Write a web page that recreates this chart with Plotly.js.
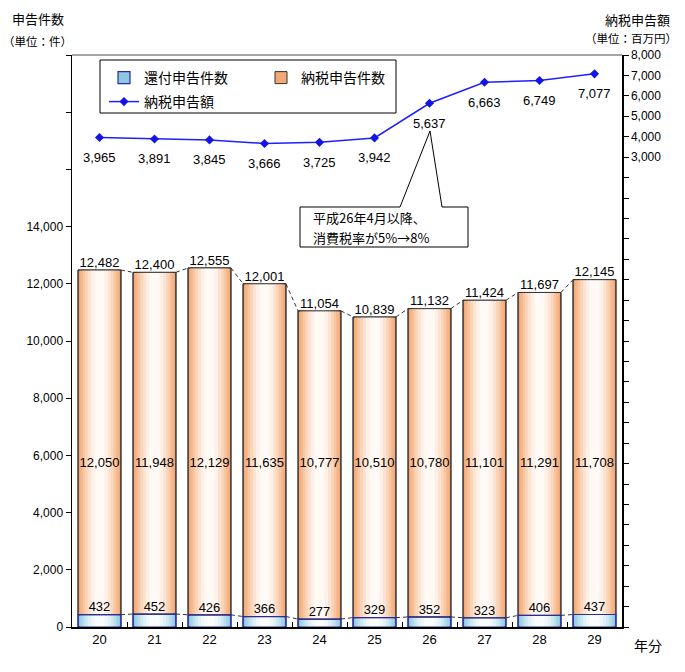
<!DOCTYPE html>
<html>
<head>
<meta charset="utf-8">
<script src="https://cdn.plot.ly/plotly-3.0.1.min.js"></script>
<style>html,body{margin:0;padding:0;background:#fff;}#chart{width:685px;height:672px;}</style>
</head>
<body>
<div id="chart"></div>
<script>
// ---- data ----
const years = ['20','21','22','23','24','25','26','27','28','29'];
const refundCount = [432, 452, 426, 366, 277, 329, 352, 323, 406, 437];
const taxCount = [12050, 11948, 12129, 11635, 10777, 10510, 10780, 11101, 11291, 11708];
const totalCount = [12482, 12400, 12555, 12001, 11054, 10839, 11132, 11424, 11697, 12145];
const taxAmount = [3965, 3891, 3845, 3666, 3725, 3942, 5637, 6663, 6749, 7077];
const leftTicks = [0, 2000, 4000, 6000, 8000, 10000, 12000, 14000, 16000, 18000, 20000];
const rightTicks = [];
for (let v = -20000; v <= 8000; v += 1000) rightTicks.push(v);

// ---- styles ----
const FONT = 'Liberation Sans, Arial, Noto Sans CJK JP, sans-serif';
const JFONT = 'Noto Sans CJK JP, Liberation Sans, sans-serif';
const BARW = 0.78;
const idx = years.map((_, i) => i);
const fmt = v => v.toLocaleString('en-US');

const orangeStrips = [
  [0.78, '#F4A875'], [0.70, '#F6B68A'], [0.61, '#F9C6A2'], [0.52, '#FBD5BA'],
  [0.42, '#FCE3D1'], [0.31, '#FEF0E6'], [0.18, '#FFFAF6']
];
const blueStrips = [
  [0.78, '#8CC9DF'], [0.70, '#A2D4E6'], [0.61, '#B9DFEC'], [0.52, '#CEE8F2'],
  [0.42, '#E0F0F7'], [0.31, '#EEF7FB'], [0.18, '#FAFDFE']
];

const traces = [];
blueStrips.forEach(([w, c], k) => {
  traces.push({
    type: 'bar', x: idx, y: refundCount, base: 0, width: w,
    name: '還付申告件数', showlegend: k === 0, legend: 'legend',
    marker: {color: c, line: {width: k === 0 ? 1.2 : 0, color: '#2B2BA0'}},
    hoverinfo: 'skip'
  });
});
orangeStrips.forEach(([w, c], k) => {
  traces.push({
    type: 'bar', x: idx, y: taxCount, base: refundCount, width: w,
    name: '納税申告件数', showlegend: k === 0, legend: 'legend',
    marker: {color: c, line: {width: k === 0 ? 1 : 0, color: '#333333'}},
    hoverinfo: 'skip'
  });
});
// outlines on top
traces.push({
  type: 'bar', x: idx, y: taxCount, base: refundCount, width: BARW,
  showlegend: false, marker: {color: 'rgba(0,0,0,0)', line: {width: 1, color: '#333333'}},
  hoverinfo: 'skip'
});
traces.push({
  type: 'bar', x: idx, y: refundCount, base: 0, width: BARW,
  showlegend: false, marker: {color: 'rgba(0,0,0,0)', line: {width: 1.2, color: '#2B2BA0'}},
  hoverinfo: 'skip'
});

// series lines (dashed) between bar tops
function seriesLine(vals) {
  const xs = [], ys = [];
  for (let i = 0; i < vals.length - 1; i++) {
    xs.push(i + BARW / 2, i + 1 - BARW / 2, null);
    ys.push(vals[i], vals[i + 1], null);
  }
  return {type: 'scatter', mode: 'lines', x: xs, y: ys, showlegend: false,
    line: {color: '#333333', width: 1, dash: '4px,3px'}, hoverinfo: 'skip', connectgaps: false};
}
traces.push(seriesLine(totalCount));
traces.push(seriesLine(refundCount));

// labels
traces.push({type: 'scatter', mode: 'text', x: idx, y: totalCount, text: totalCount.map(fmt),
  textposition: 'top center', textfont: {family: FONT, size: 13, color: '#000'}, showlegend: false, hoverinfo: 'skip'});
traces.push({type: 'scatter', mode: 'text', x: idx, y: idx.map(() => 5700), text: taxCount.map(fmt),
  textposition: 'middle center', textfont: {family: FONT, size: 13, color: '#000'}, showlegend: false, hoverinfo: 'skip'});
traces.push({type: 'scatter', mode: 'text', x: idx, y: refundCount, text: refundCount.map(fmt),
  textposition: 'top center', textfont: {family: FONT, size: 13, color: '#000'}, showlegend: false, hoverinfo: 'skip'});

// line on right axis
traces.push({
  type: 'scatter', mode: 'lines+markers', x: idx, y: taxAmount, yaxis: 'y2',
  name: '納税申告額', legend: 'legend2',
  line: {color: '#1F1FFF', width: 1.5}, marker: {symbol: 'diamond', size: 7, color: '#1414E6'},
  hoverinfo: 'skip'
});

const px = v => (v - 72) / 550;
const py = v => (627 - v) / 572;

const amountLabels = idx.map(i => ({
  xref: 'x', yref: 'y2', x: i, y: taxAmount[i], yshift: -20, showarrow: false,
  text: fmt(taxAmount[i]), font: {family: FONT, size: 13, color: '#000'}
}));

const layout = {
  width: 685, height: 672,
  margin: {l: 72, r: 63, t: 55, b: 45},
  paper_bgcolor: '#fff', plot_bgcolor: '#fff',
  font: {family: FONT, size: 12, color: '#000'},
  barmode: 'overlay',
  showlegend: true,
  hovermode: false,
  xaxis: {
    range: [-0.5, 9.5], tickmode: 'array', tickvals: idx, ticktext: years,
    ticks: '', showgrid: false, zeroline: false, showline: true, linecolor: '#000', linewidth: 1.5,
    tickfont: {family: FONT, size: 13, color: '#000'},
    minor: {tickmode: 'array', tickvals: idx.slice(0, -1).map(i => i + 0.5), ticks: 'inside', ticklen: 5, tickcolor: '#000', showgrid: false}
  },
  yaxis: {
    range: [0, 20000], tickmode: 'array', tickvals: leftTicks,
    ticktext: leftTicks.map(v => v <= 14000 ? fmt(v) : ''),
    ticks: 'outside', ticklen: 5, tickcolor: '#000', showgrid: false, zeroline: false,
    showline: true, linecolor: '#000', linewidth: 1.5,
    tickfont: {family: FONT, size: 12, color: '#000'}
  },
  yaxis2: {
    overlaying: 'y', side: 'right', range: [-20000, 8000], tickmode: 'array', tickvals: rightTicks,
    ticktext: rightTicks.map(v => v >= 3000 ? fmt(v) : ''),
    ticks: 'outside', ticklen: 5, tickcolor: '#000', showgrid: false, zeroline: false,
    showline: true, linecolor: '#000', linewidth: 1.5,
    tickfont: {family: FONT, size: 12, color: '#000'}
  },
  legend: {
    orientation: 'h', x: px(104), y: py(62), xanchor: 'left', yanchor: 'top',
    entrywidth: 112, entrywidthmode: 'pixels', bgcolor: 'rgba(0,0,0,0)', borderwidth: 0,
    font: {family: JFONT, size: 14, color: '#000'}
  },
  legend2: {
    orientation: 'h', x: px(104), y: py(86), xanchor: 'left', yanchor: 'top',
    bgcolor: 'rgba(0,0,0,0)', borderwidth: 0,
    font: {family: JFONT, size: 14, color: '#000'}
  },
  shapes: [
    {type: 'line', xref: 'paper', yref: 'paper', x0: 0, x1: 1, y0: 1, y1: 1, line: {color: '#A6A6A6', width: 2}},
    {type: 'rect', xref: 'paper', yref: 'paper', x0: px(100), x1: px(396), y0: py(113), y1: py(60),
      line: {color: '#000', width: 1}, fillcolor: 'rgba(0,0,0,0)'},
    {type: 'path', xref: 'paper', yref: 'paper',
      path: `M ${px(300)},${py(207)} L ${px(400)},${py(207)} L ${px(430)},${py(131)} L ${px(442)},${py(207)} L ${px(468)},${py(207)} L ${px(468)},${py(247)} L ${px(300)},${py(247)} Z`,
      line: {color: '#000', width: 1}, fillcolor: '#fff', layer: 'above'}
  ],
  annotations: amountLabels.concat([
    {xref: 'paper', yref: 'paper', x: px(311), y: py(217), xanchor: 'left', yanchor: 'middle', align: 'left',
      text: '平成26年4月以降、', showarrow: false, font: {family: JFONT, size: 13, color: '#000'}},
    {xref: 'paper', yref: 'paper', x: px(311), y: py(237), xanchor: 'left', yanchor: 'middle', align: 'left',
      text: '消費税率が5%→8%', showarrow: false, font: {family: JFONT, size: 13, color: '#000'}},
    {xref: 'paper', yref: 'paper', x: px(38), y: py(18), xanchor: 'center', yanchor: 'middle',
      text: '申告件数', showarrow: false, font: {family: JFONT, size: 13, color: '#000'}},
    {xref: 'paper', yref: 'paper', x: px(37), y: py(41), xanchor: 'center', yanchor: 'middle',
      text: '（単位：件）', showarrow: false, font: {family: JFONT, size: 11.5, color: '#000'}},
    {xref: 'paper', yref: 'paper', x: px(637), y: py(19), xanchor: 'center', yanchor: 'middle',
      text: '納税申告額', showarrow: false, font: {family: JFONT, size: 13, color: '#000'}},
    {xref: 'paper', yref: 'paper', x: px(631), y: py(38), xanchor: 'center', yanchor: 'middle',
      text: '（単位：百万円）', showarrow: false, font: {family: JFONT, size: 11.5, color: '#000'}},
    {xref: 'paper', yref: 'paper', x: px(648), y: py(645), xanchor: 'center', yanchor: 'middle',
      text: '年分', showarrow: false, font: {family: JFONT, size: 14, color: '#000'}}
  ])
};

Plotly.newPlot('chart', traces, layout, {displayModeBar: false, staticPlot: true});
</script>
</body>
</html>
